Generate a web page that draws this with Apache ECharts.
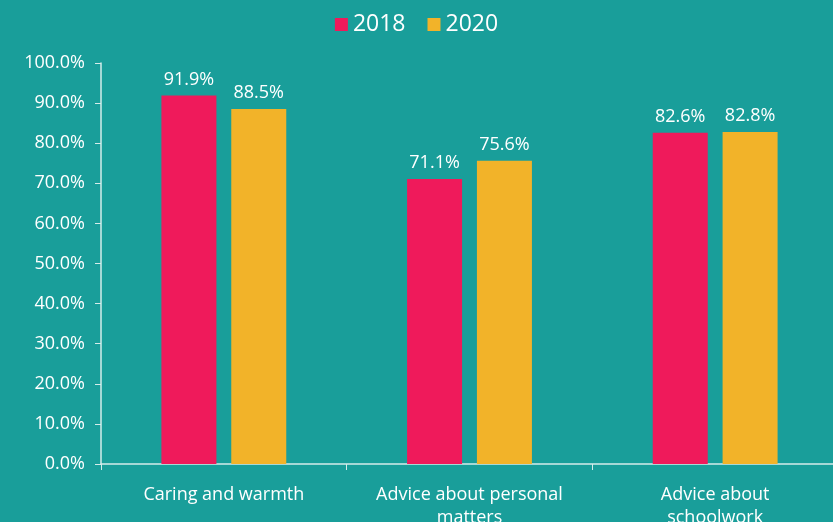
<!DOCTYPE html>
<html>
<head>
<meta charset="utf-8">
<script src="https://cdn.jsdelivr.net/npm/echarts@6/dist/echarts.min.js"></script>
<style>
  html, body { margin: 0; padding: 0; background: #199e9a; }
  #chart { width: 833px; height: 522px; }
</style>
</head>
<body>
<div id="chart"></div>
<script>
// 数据
const categories = ['Caring and warmth', 'Advice about personal\nmatters', 'Advice about\nschoolwork'];
const values2018 = [91.9, 71.1, 82.6];
const values2020 = [88.5, 75.6, 82.8];
const seriesNames = ['2018', '2020'];

const fontFamily = '"Open Sans", "DejaVu Sans", sans-serif';

const chart = echarts.init(document.getElementById('chart'));
const option = {
    backgroundColor: '#199e9a',
    textStyle: { fontFamily: fontFamily, color: '#ffffff' },
    legend: {
        top: 8,
        left: 'center',
        itemWidth: 13,
        itemHeight: 13,
        itemGap: 22,
        icon: 'rect',
        textStyle: { color: '#ffffff', fontSize: 23, fontFamily: fontFamily },
        data: seriesNames
    },
    grid: { left: 101, right: -5, top: 63, bottom: 58, containLabel: false, outerBoundsMode: 'none' },
    xAxis: {
        type: 'category',
        data: categories,
        axisLine: { lineStyle: { color: '#d5ecea', width: 1.5 } },
        axisTick: { show: true, alignWithLabel: false, length: 6, lineStyle: { color: '#d5ecea' } },
        axisLabel: { color: '#ffffff', fontSize: 18, lineHeight: 23, margin: 19, fontFamily: fontFamily }
    },
    yAxis: {
        type: 'value',
        min: 0,
        max: 100,
        interval: 10,
        splitLine: { show: false },
        axisLine: { show: true, lineStyle: { color: '#d5ecea', width: 1.5 } },
        axisTick: { show: true, length: 6, lineStyle: { color: '#d5ecea' } },
        axisLabel: {
            color: '#ffffff', fontSize: 18, margin: 16, fontFamily: fontFamily,
            formatter: v => v.toFixed(1) + '%'
        }
    },
    series: [
        {
            name: seriesNames[0],
            type: 'bar',
            data: values2018,
            barWidth: 55,
            barGap: '27%',
            itemStyle: { color: '#ef1a5b' },
            label: { show: true, position: 'top', distance: 7, color: '#ffffff', fontSize: 18, formatter: p => p.value.toFixed(1) + '%' }
        },
        {
            name: seriesNames[1],
            type: 'bar',
            data: values2020,
            barWidth: 55,
            itemStyle: { color: '#f2b329' },
            label: { show: true, position: 'top', distance: 7, color: '#ffffff', fontSize: 18, formatter: p => p.value.toFixed(1) + '%' }
        }
    ]
};
chart.setOption(option);
window.addEventListener('resize', () => chart.resize());
</script>
</body>
</html>
